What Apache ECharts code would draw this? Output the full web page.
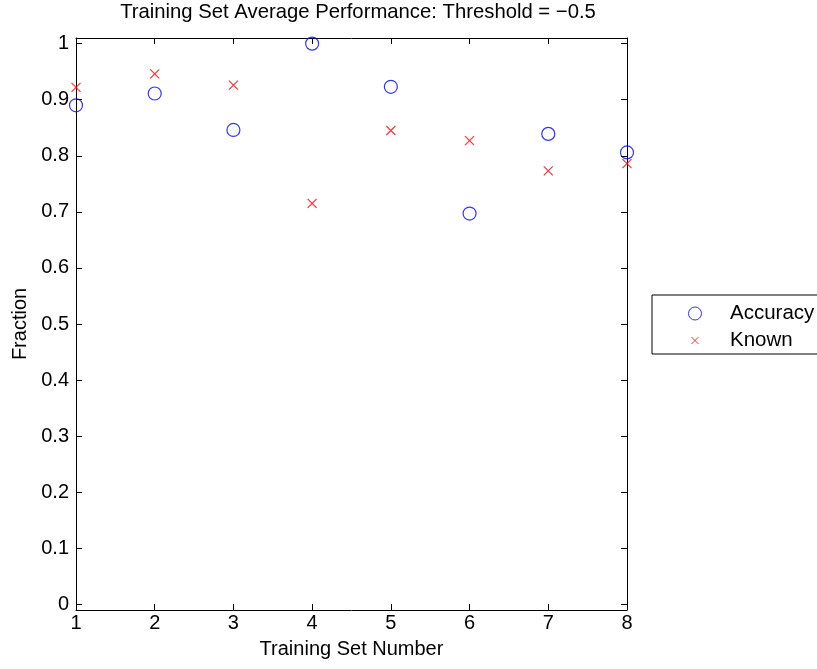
<!DOCTYPE html>
<html>
<head>
<meta charset="utf-8">
<script src="https://cdn.jsdelivr.net/npm/echarts@6/dist/echarts.min.js"></script>
<style>
html,body{margin:0;padding:0;background:#fff;}
#c{width:817px;height:669px;}
</style>
</head>
<body>
<div id="c"></div>
<script>
var trainingSets = [1, 2, 3, 4, 5, 6, 7, 8];
var accuracy = [0.890, 0.911, 0.846, 1.000, 0.923, 0.697, 0.839, 0.806];
var known = [0.922, 0.946, 0.926, 0.715, 0.845, 0.827, 0.773, 0.786];
var xTickLabels = ['1', '2', '3', '4', '5', '6', '7', '8'];
var yTickValues = [0, 0.1, 0.2, 0.3, 0.4, 0.5, 0.6, 0.7, 0.8, 0.9, 1];
var yTickLabels = ['0', '0.1', '0.2', '0.3', '0.4', '0.5', '0.6', '0.7', '0.8', '0.9', '1'];

var FONT = '"Liberation Sans", Arial, Helvetica, sans-serif';
var accData = trainingSets.map(function (x, i) { return [x, accuracy[i]]; });
var knownData = trainingSets.map(function (x, i) { return [x, known[i]]; });

function yLabel(v) {
  for (var i = 0; i < yTickValues.length; i++) {
    if (Math.abs(yTickValues[i] - v) < 1e-6) return yTickLabels[i];
  }
  return '';
}
function xLabel(v) {
  var i = trainingSets.indexOf(Math.round(v));
  return i >= 0 ? xTickLabels[i] : '';
}

var xMark = 'path://M0,0L10,10M10,0L0,10';
var xMarkLegend = 'path://M-6.5,-6.5M6.5,6.5M-3.5,-3.5L3.5,3.5M3.5,-3.5L-3.5,3.5';

var axisLineStyle = { show: true, onZero: false, lineStyle: { color: '#000', width: 1 } };
var tickStyle = { show: true, inside: true, length: 6, lineStyle: { color: '#000', width: 1 } };

var chart = echarts.init(document.getElementById('c'), null, { renderer: 'canvas' });
chart.setOption({
  animation: false,
  backgroundColor: '#fff',
  title: {
    text: 'Training Set Average Performance: Threshold = \u22120.5',
    left: 358,
    textAlign: 'center',
    top: 2,
    padding: 0,
    textStyle: { fontFamily: FONT, fontSize: 20.3, fontWeight: 'normal', color: '#000' }
  },
  legend: {
    orient: 'vertical',
    left: 652,
    top: 295,
    padding: [8, 25, 3, 36],
    itemGap: 6,
    itemWidth: 60,
    itemHeight: 13,
    borderColor: '#000',
    borderWidth: 1,
    borderRadius: 0,
    backgroundColor: '#fff',
    selectedMode: false,
    textStyle: { fontFamily: FONT, fontSize: 20.5, color: '#000', padding: [0, 0, 0, 0] },
    data: [
      { name: 'Accuracy', icon: 'circle', itemStyle: { color: 'rgba(0,0,0,0)', borderColor: '#0000ff', borderWidth: 1 } },
      { name: 'Known', icon: xMarkLegend, itemStyle: { color: 'rgba(0,0,0,0)', borderColor: '#ff0000', borderWidth: 1 } }
    ]
  },
  grid: { left: 76, top: 38, width: 551, height: 572, containLabel: false },
  xAxis: [
    {
      type: 'value', min: 1, max: 8, interval: 1, position: 'bottom',
      name: 'Training Set Number', nameLocation: 'middle', nameGap: 29,
      nameTextStyle: { fontFamily: FONT, fontSize: 20, color: '#000' },
      axisLine: axisLineStyle, axisTick: tickStyle,
      axisLabel: { show: true, margin: 3, fontFamily: FONT, fontSize: 20, color: '#000', formatter: xLabel },
      splitLine: { show: false }
    },
    {
      type: 'value', min: 1, max: 8, interval: 1, position: 'top',
      axisLine: axisLineStyle, axisTick: tickStyle,
      axisLabel: { show: false }, splitLine: { show: false }
    }
  ],
  yAxis: [
    {
      type: 'value', min: -0.01, max: 1.01, position: 'left',
      name: 'Fraction', nameLocation: 'middle', nameGap: 46, nameRotate: 90,
      nameTextStyle: { fontFamily: FONT, fontSize: 20, color: '#000' },
      axisLine: axisLineStyle,
      axisTick: { show: true, inside: true, length: 6, lineStyle: { color: '#000', width: 1 }, customValues: yTickValues },
      axisLabel: { show: true, margin: 7, fontFamily: FONT, fontSize: 20, color: '#000', customValues: yTickValues, formatter: yLabel },
      splitLine: { show: false }
    },
    {
      type: 'value', min: -0.01, max: 1.01, position: 'right',
      axisLine: axisLineStyle,
      axisTick: { show: true, inside: true, length: 6, lineStyle: { color: '#000', width: 1 }, customValues: yTickValues },
      axisLabel: { show: false }, splitLine: { show: false }
    }
  ],
  series: [
    {
      name: 'Accuracy', type: 'scatter', xAxisIndex: 0, yAxisIndex: 0,
      data: accData, symbol: 'circle', symbolSize: 13, clip: false,
      itemStyle: { color: 'rgba(0,0,0,0)', borderColor: '#0000ff', borderWidth: 1.2 },
      emphasis: { disabled: true }, z: 3
    },
    {
      name: 'Known', type: 'scatter', xAxisIndex: 0, yAxisIndex: 0,
      data: knownData, symbol: xMark, symbolSize: 9, clip: false,
      itemStyle: { color: 'rgba(0,0,0,0)', borderColor: '#ff0000', borderWidth: 1.2 },
      emphasis: { disabled: true }, z: 3
    }
  ]
});
</script>
</body>
</html>
